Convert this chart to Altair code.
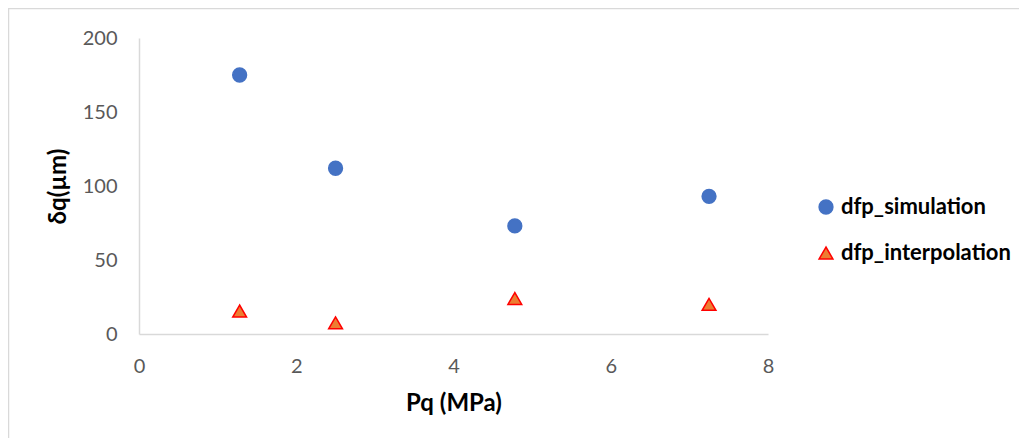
import altair as alt
import pandas as pd

pq = [1.28, 2.5, 4.78, 7.25]
dfp_simulation = [175, 112, 73, 93]
dfp_interpolation = [15.5, 7.5, 24, 20]
series = ["dfp_simulation", "dfp_interpolation"]
x_ticks = [0, 2, 4, 6, 8]
y_ticks = [0, 50, 100, 150, 200]

rows = []
for xv, yv in zip(pq, dfp_simulation):
    rows.append({"Pq": xv, "dq": yv, "series": series[0]})
for xv, yv in zip(pq, dfp_interpolation):
    rows.append({"Pq": xv, "dq": yv, "series": series[1]})
df = pd.DataFrame(rows)

FONT = "Lato"
W, H = 629, 296
PAD_L, PAD_T = 131, 30
TOTAL_W, TOTAL_H = 1011, 430

leg = alt.Legend(
    title=None,
    orient="none",
    legendX=676,
    legendY=158,
    labelFont=FONT,
    labelFontSize=22,
    labelFontWeight="bold",
    labelColor="#000000",
    labelLimit=400,
    symbolSize=190,
    symbolStrokeWidth=1.5,
    rowPadding=24,
    labelOffset=4,
    padding=0,
)

points = alt.Chart(df).mark_point(filled=True, opacity=1, strokeWidth=1.5, size=190).encode(
    x=alt.X("Pq:Q", scale=alt.Scale(domain=[0, 8], nice=False),
            axis=alt.Axis(values=x_ticks, title="Pq (MPa)", format="d", labelFlush=False)),
    y=alt.Y("dq:Q", scale=alt.Scale(domain=[0, 200], nice=False),
            axis=alt.Axis(values=y_ticks, title="δq(µm)", format="d")),
    shape=alt.Shape("series:N", scale=alt.Scale(domain=series, range=["circle", "triangle-up"]), legend=leg),
    fill=alt.Fill("series:N", scale=alt.Scale(domain=series, range=["#4472C4", "#ED7D31"]), legend=leg),
    stroke=alt.Stroke("series:N", scale=alt.Scale(domain=series, range=["#4472C4", "#FF0000"]), legend=leg),
)

border = alt.Chart(pd.DataFrame({"a": [0]})).mark_rect(
    fill=None, stroke="#d9d9d9", strokeWidth=1.5
).encode(
    x=alt.value(-130.5), x2=alt.value(1000),
    y=alt.value(-29.5), y2=alt.value(600),
)

chart = alt.layer(border, points).properties(
    width=W, height=H,
    autosize=alt.AutoSizeParams(type="none"),
    padding={"left": PAD_L, "top": PAD_T, "right": TOTAL_W - PAD_L - W, "bottom": TOTAL_H - PAD_T - H},
).configure_view(stroke=None).configure_axis(
    grid=False,
    ticks=False,
    tickSize=0,
    domainColor="#d9d9d9",
    domainWidth=1.5,
    labelFont=FONT,
    labelFontSize=20,
    labelColor="#595959",
    titleFont=FONT,
    titleFontSize=24,
    titleFontWeight="bold",
    titleColor="#000000",
).configure_axisY(
    labelPadding=22,
    titlePadding=12,
).configure_axisX(
    labelPadding=22,
    titlePadding=15,
)

chart.save("out.html", embed_options={"renderer": "svg", "actions": False})
